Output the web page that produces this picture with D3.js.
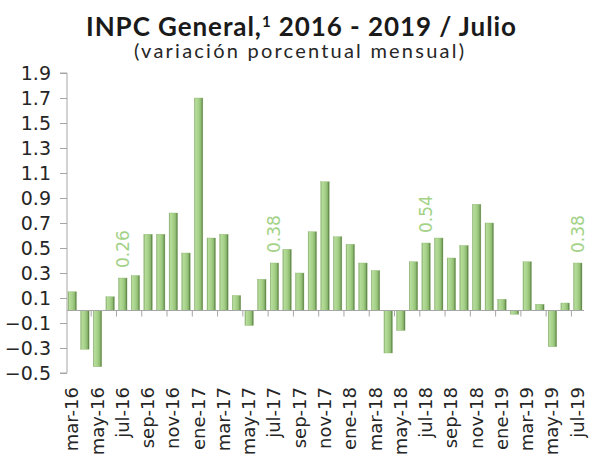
<!DOCTYPE html>
<html>
<head>
<meta charset="utf-8">
<script src="https://cdn.jsdelivr.net/npm/d3@7/dist/d3.min.js"></script>
<style>
  html, body { margin: 0; padding: 0; background: #ffffff; }
  svg { display: block; }
</style>
</head>
<body>
<svg id="chart" width="595" height="459"></svg>
<script>
// ---- Data ----
const months = [
  "mar-16","abr-16","may-16","jun-16","jul-16","ago-16","sep-16","oct-16","nov-16","dic-16",
  "ene-17","feb-17","mar-17","abr-17","may-17","jun-17","jul-17","ago-17","sep-17","oct-17","nov-17","dic-17",
  "ene-18","feb-18","mar-18","abr-18","may-18","jun-18","jul-18","ago-18","sep-18","oct-18","nov-18","dic-18",
  "ene-19","feb-19","mar-19","abr-19","may-19","jun-19","jul-19"
];
const values = [
  0.15, -0.31, -0.45, 0.11, 0.26, 0.28, 0.61, 0.61, 0.78, 0.46,
  1.70, 0.58, 0.61, 0.12, -0.12, 0.25, 0.38, 0.49, 0.30, 0.63, 1.03, 0.59,
  0.53, 0.38, 0.32, -0.34, -0.16, 0.39, 0.54, 0.58, 0.42, 0.52, 0.85, 0.70,
  0.09, -0.03, 0.39, 0.05, -0.29, 0.06, 0.38
];
const labeledMonths = ["jul-16", "jul-17", "jul-18", "jul-19"];
const yTicks = [1.9, 1.7, 1.5, 1.3, 1.1, 0.9, 0.7, 0.5, 0.3, 0.1, -0.1, -0.3, -0.5];
const xTickLabels = months.filter((d, i) => i % 2 === 0);

const titleMain = "INPC General,";
const titleSup = "1";
const titleRest = " 2016 - 2019 / Julio";
const subtitle = "(variación porcentual mensual)";

// ---- Layout ----
const svg = d3.select("#chart");
const data = months.map((m, i) => ({ m, v: values[i] }));

const x = d3.scaleBand().domain(months).range([68, 582]).paddingInner(0.33).paddingOuter(0);
const y = d3.scaleLinear().domain([-0.5, 1.9]).range([373, 73]);

const defs = svg.append("defs");
const grad = defs.append("linearGradient").attr("id", "barGrad")
  .attr("x1", "0%").attr("x2", "100%").attr("y1", "0%").attr("y2", "0%");
[["0%", "#7fa566"], ["15%", "#b6dd9b"], ["50%", "#a6d189"], ["78%", "#8dbb70"], ["100%", "#4f6f3b"]]
  .forEach(([o, c]) => grad.append("stop").attr("offset", o).attr("stop-color", c));

const tickFont = "'DejaVu Sans', 'Open Sans', sans-serif";

// Y axis
const yAxis = d3.axisLeft(y).tickValues(yTicks).tickSize(7).tickPadding(9)
  .tickFormat(d => d3.format(".1f")(d));
const gy = svg.append("g").attr("transform", "translate(67,0)").call(yAxis);
gy.select(".domain").attr("stroke", "#a6a6a6").attr("d", `M-7,${y(1.9)}H0V${y(-0.5)}H-7`);
gy.selectAll(".tick line").attr("stroke", "#a6a6a6");
gy.selectAll(".tick text").attr("fill", "#262626").attr("font-family", tickFont)
  .attr("font-size", 19);

// Bars
svg.append("g").selectAll("rect").data(data).join("rect")
  .attr("x", d => x(d.m))
  .attr("width", x.bandwidth())
  .attr("y", d => Math.min(y(d.v), y(0)))
  .attr("height", d => Math.abs(y(d.v) - y(0)))
  .attr("fill", "url(#barGrad)")
  .attr("stroke", "#8fb873").attr("stroke-width", 0.4);

// X axis line at zero with ticks every two categories
const step = x.step();
const gap = step * x.paddingInner();
const xg = svg.append("g");
xg.append("line").attr("x1", 67).attr("x2", 584).attr("y1", y(0)).attr("y2", y(0))
  .attr("stroke", "#a6a6a6");
xg.selectAll("line.t").data(xTickLabels.slice(1)).join("line").attr("class", "t")
  .attr("x1", d => x(d) - gap / 2).attr("x2", d => x(d) - gap / 2)
  .attr("y1", y(0)).attr("y2", y(0) + 6).attr("stroke", "#a6a6a6");

// X labels (rotated)
svg.append("g").selectAll("text").data(xTickLabels).join("text")
  .attr("transform", d => `translate(${x(d) + x.bandwidth() / 2 + 6},387) rotate(-90)`)
  .attr("text-anchor", "end")
  .attr("font-family", tickFont).attr("font-size", 18).attr("fill", "#262626")
  .text(d => d);

// Data labels
svg.append("g").selectAll("text").data(data.filter(d => labeledMonths.includes(d.m))).join("text")
  .attr("transform", d => `translate(${x(d.m) + x.bandwidth() / 2 + 6},${y(d.v) - 10}) rotate(-90)`)
  .attr("text-anchor", "start")
  .attr("font-family", tickFont).attr("font-size", 17).attr("fill", "#a3d287")
  .text(d => d3.format(".2f")(d.v));

// Title
const t = svg.append("text").attr("x", 301).attr("y", 36).attr("text-anchor", "middle")
  .attr("font-family", "Lato, 'Open Sans', sans-serif").attr("font-weight", "bold")
  .attr("font-size", 26).attr("fill", "#1a1a1a");
t.append("tspan").text(titleMain);
t.append("tspan").attr("font-size", 15).attr("dy", -9).text(titleSup);
t.append("tspan").attr("dy", 9).text(titleRest);
t.attr("textLength", 430).attr("lengthAdjust", "spacing");

svg.append("text").attr("x", 299).attr("y", 58).attr("text-anchor", "middle")
  .attr("font-family", "Lato, 'Open Sans', sans-serif").attr("font-size", 20)
  .attr("fill", "#262626")
  .attr("textLength", 330).attr("lengthAdjust", "spacing")
  .text(subtitle);
</script>
</body>
</html>
